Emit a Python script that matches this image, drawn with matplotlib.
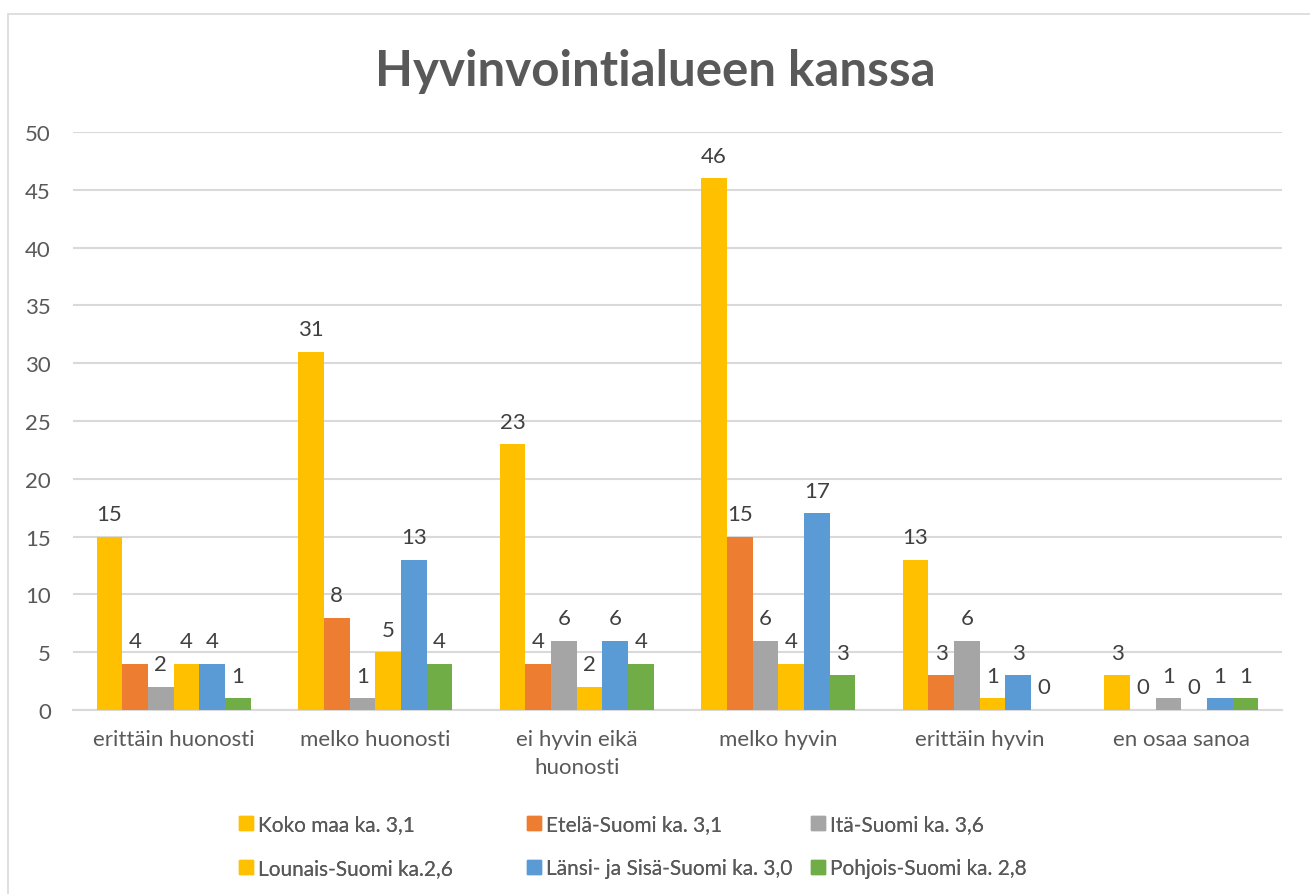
import numpy as np
import matplotlib
matplotlib.use('Agg')
import matplotlib.pyplot as plt
from matplotlib.patches import Rectangle
from matplotlib.lines import Line2D

categories = ['erittäin huonosti', 'melko huonosti', 'ei hyvin eikä\nhuonosti',
              'melko hyvin', 'erittäin hyvin', 'en osaa sanoa']
series_names = ['Koko maa ka. 3,1', 'Etelä-Suomi ka. 3,1', 'Itä-Suomi ka. 3,6',
                'Lounais-Suomi ka.2,6', 'Länsi- ja Sisä-Suomi ka. 3,0', 'Pohjois-Suomi ka. 2,8']
koko_maa = [15, 31, 23, 46, 13, 3]
etela = [4, 8, 4, 15, 3, 0]
ita = [2, 1, 6, 6, 6, 1]
lounais = [4, 5, 2, 4, 1, 0]
lansi = [4, 13, 6, 17, 3, 1]
pohjois = [1, 4, 4, 3, 0, 1]
colors = ['#FFC000', '#ED7D31', '#A5A5A5', '#FFC000', '#5B9BD5', '#70AD47']

plt.rcParams['font.family'] = ['Lato', 'DejaVu Sans']
txt = '#595959'

fig = plt.figure(figsize=(13.1, 8.95), dpi=100)
fig.patches.append(Rectangle((8 / 1310, -0.01), 1.02, 1 - 15 / 895 + 0.01, transform=fig.transFigure,
                             fill=False, edgecolor='#d9d9d9', linewidth=1.2))
ax = fig.add_axes([73 / 1310, 1 - 711 / 895, (1282 - 73) / 1310, (711 - 133) / 895])

data = [koko_maa, etela, ita, lounais, lansi, pohjois]
x = np.arange(len(categories))
gw = 0.765
w = gw / 6
for i, vals in enumerate(data):
    pos = x - gw / 2 + w * (i + 0.5)
    ax.bar(pos, vals, width=w, color=colors[i], zorder=3)
    for p, v in zip(pos, vals):
        ax.annotate(str(v), (p, v), xytext=(0, 9), textcoords='offset points',
                    ha='center', va='bottom', fontsize=16, color='#404040')

ax.set_xlim(-0.5, len(categories) - 0.5)
ax.set_ylim(0, 50)
ax.set_yticks(range(0, 51, 5))
ax.grid(axis='y', color='#d9d9d9', linewidth=1.5, zorder=0)
for s in ['top', 'right', 'left']:
    ax.spines[s].set_visible(False)
ax.spines['bottom'].set_color('#d9d9d9')
ax.spines['bottom'].set_linewidth(1.5)
ax.tick_params(length=0, labelsize=16, labelcolor=txt)
ax.tick_params(axis='y', pad=16)
ax.tick_params(axis='x', pad=14)
ax.set_xticks(x)
ax.set_xticklabels(categories, linespacing=1.45)

fig.suptitle('Hyvinvointialueen kanssa', y=0.945, fontsize=35.5, fontweight='bold', color=txt)

# legend laid out row by row, as in the original, one column per legend
col_x = [233 / 1310, 521 / 1310, 805 / 1310]
for c in range(3):
    idx = [c, c + 3]
    handles = [Line2D([], [], marker='s', linestyle='none', markersize=10, color=colors[k]) for k in idx]
    leg = fig.legend(handles, [series_names[k] for k in idx], loc='upper left',
                     bbox_to_anchor=(col_x[c], 1 - 815 / 895), ncol=1, frameon=False,
                     fontsize=15, labelcolor=txt, handletextpad=0.0, labelspacing=1.15,
                     borderaxespad=0, borderpad=0, handlelength=1.2)
    fig.add_artist(leg)

fig.savefig('out.png', dpi=100)
